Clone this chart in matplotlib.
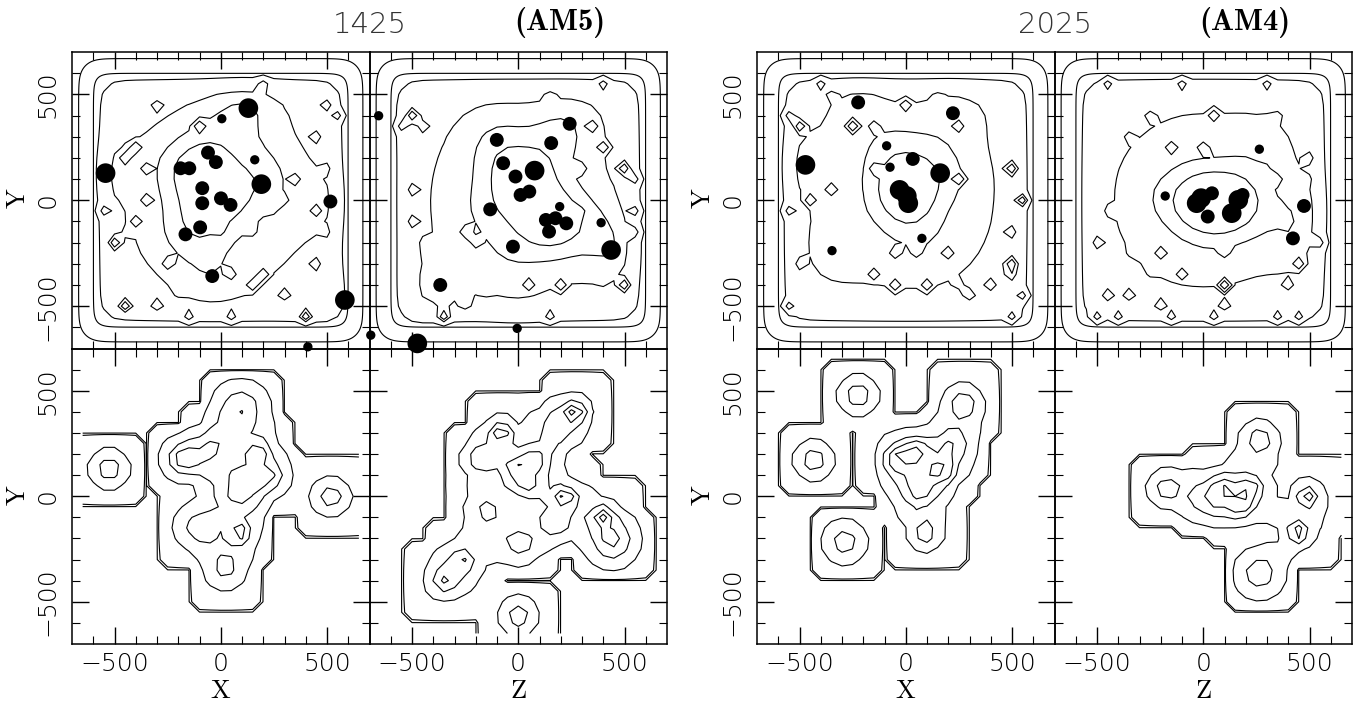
import numpy as np
import matplotlib
matplotlib.use("Agg")
import matplotlib.pyplot as plt
from matplotlib.font_manager import FontProperties
import os

ttf = os.path.join(matplotlib.get_data_path(), 'fonts', 'ttf')
cm_bold = FontProperties(fname=os.path.join(ttf, 'cmb10.ttf'), size=22)
cm_roman = FontProperties(fname=os.path.join(ttf, 'cmr10.ttf'), size=19)

# ---------------- data ----------------
# top panels: diamond peaks (x, y, nesting) and black dots (x, y, size class)
am5_xy_dia_x = [206, -305, 549, 502, -396, -95, -448, -356, 447, 349, 499, -546, -350, -401, -503, -448, 261, 304, 451, 496, 18, 145, 461, 52, 201, 145, 308, 404, -146, 36, -228, -448, -299, -207]
am5_xy_dia_y = [572, 446, 404, 446, 262, 348, 194, 167, 304, 101, 164, -49, 2, -98, -196, -140, -50, 17, -43, -140, -156, -143, -298, -345, -345, -400, -448, -558, -542, -542, -290, -495, -495, -440]
am5_xy_dia_n = [1, 1, 1, 1, 1, 1, 1, 1, 1, 1, 1, 1, 1, 1, 2, 1, 1, 1, 1, 1, 1, 1, 1, 1, 1, 1, 1, 2, 1, 1, 1, 2, 1, 1]
am5_xy_dot_x = [130, 5, -542, -60, -23, -189, -148, 160, 191, -87, -87, 1, 46, -97, -166, 516, -40, 584, 410, 706]
am5_xy_dot_y = [435, 385, 128, 225, 180, 151, 151, 191, 76, 57, -14, 9, -22, -128, -161, -6, -358, -471, -692, -637]
am5_xy_dot_s = [3, 1, 3, 2, 2, 2, 2, 1, 3, 2, 2, 2, 2, 2, 2, 2, 2, 3, 1, 1]

am5_zy_dia_x = [-499, -545, -439, 420, 155, 349, 399, 512, 553, 308, -488, 308, 247, 553, -499, -244, -193, -439, -469, 502, 52, 195, 420, -336, -244, -336, -132, 155, 543]
am5_zy_dia_y = [404, 364, 356, 561, 506, 348, 262, 159, 96, 143, 49, -46, -46, -46, -93, -140, -180, -203, -266, -400, -400, -400, -400, -519, -495, -542, -448, -542, -156]
am5_zy_dia_n = [2, 1, 1, 1, 1, 1, 1, 2, 1, 1, 1, 1, 1, 1, 1, 1, 1, 1, 1, 2, 1, 1, 1, 1, 1, 2, 1, 1, 1]
am5_zy_dot_x = [-657, -475, -5, 242, -101, 155, -71, 77, -13, 11, 52, -132, 195, 130, 175, 226, 145, 390, -25, 437, -367]
am5_zy_dot_y = [399, -676, -605, 361, 285, 270, 175, 140, 112, 25, 41, -43, -30, -93, -85, -109, -148, -106, -219, -235, -400]
am5_zy_dot_s = [1, 3, 1, 2, 2, 2, 2, 3, 2, 2, 2, 2, 1, 2, 2, 2, 2, 1, 2, 3, 2]

am4_xy_dia_x = [-388, -351, 156, -542, -501, -248, -152, 2, 238, -131, 238, -347, -450, -552, 495, 556, 505, 53, -60, 207, 505, 505, -162, -39, 248, 290, 402, -552, 556, 505, 105, -511]
am4_xy_dia_y = [550, 503, 503, 396, 348, 352, 348, 443, 333, 151, 112, 49, 2, -49, 159, -2, -140, -251, -251, -266, -306, -353, -353, -400, -400, -448, -400, -495, -440, -534, -400, -298]
am4_xy_dia_n = [1, 1, 1, 1, 2, 2, 1, 1, 1, 1, 1, 1, 1, 1, 2, 2, 1, 1, 1, 1, 2, 1, 1, 1, 1, 1, 1, 1, 1, 1, 1, 1]
am4_xy_dot_x = [-224, 222, -90, 33, -74, -472, 162, -29, 12, 5, 76, -347]
am4_xy_dot_y = [462, 411, 257, 195, 156, 167, 128, 49, -14, 20, -180, -238]
am4_xy_dot_s = [2, 2, 1, 2, 1, 3, 3, 3, 3, 3, 1, 1]

am4_zy_dia_x = [-443, -93, 309, -247, 51, 309, 360, -350, -144, 10, 299, 360, 504, 494, -453, 268, -494, -350, -196, 103, 556, 453, -247, -113, 103, 412, -453, -360, -185, -144, 62, 103, 360, 453, -494, -391]
am4_zy_dia_y = [550, 546, 553, 396, 396, 396, 396, 301, 254, 254, 128, 96, 96, 191, -46, -30, -200, -251, -251, -251, -219, -298, -353, -353, -400, -400, -440, -440, -487, -550, -550, -503, -542, -542, -542, -542]
am4_zy_dia_n = [1, 1, 1, 1, 1, 1, 1, 1, 1, 1, 1, 1, 1, 1, 1, 1, 1, 1, 1, 1, 1, 1, 1, 1, 2, 1, 1, 1, 1, 1, 1, 1, 1, 1, 1, 1]
am4_zy_dot_x = [264, -179, -10, -31, 41, 21, 134, 165, 185, 474, 422]
am4_zy_dot_y = [241, 20, 10, -14, 33, -77, -61, 2, 25, -27, -180]
am4_zy_dot_s = [1, 1, 3, 3, 2, 2, 3, 3, 2, 2, 2]

# bottom panels: smoothed sources (x, y, peak height, peak width)
am5_xy_src_x = [-525, 93, -173, 175, 89, 20, -20, 226, -101, 89, 21, 518]
am5_xy_src_y = [130, 416, 179, 219, 6, 120, 250, 89, -144, -173, -349, -2]
am5_xy_src_a = [0.9, 0.9, 1.3, 1.25, 0.85, 0.3, 0.7, 1.0, 0.8, 1.25, 0.7, 0.9]
am5_xy_src_s = [45, 80, 55, 40, 70, 90, 60, 50, 65, 35, 50, 45]

am5_zy_src_x = [267, -81, 175, -177, 89, -3, 48, 220, 396, -152, 175, 1, 441, -259, -346, 1]
am5_zy_src_y = [400, 305, 329, 176, 176, 132, 45, -2, -89, -65, -128, -223, -218, -302, -397, -567]
am5_zy_src_a = [1.3, 1.3, 0.7, 0.9, 0.75, 0.85, 0.75, 1.3, 1.3, 0.65, 0.85, 0.75, 1.0, 0.85, 0.9, 0.9]
am5_zy_src_s = [35, 35, 60, 45, 40, 45, 40, 35, 35, 55, 45, 55, 70, 45, 45, 45]

am4_xy_src_x = [-224, 269, -433, -289, -45, 43, 228, 177, 60, 90, 50]
am4_xy_src_y = [479, 440, 171, -215, 179, 219, 250, 124, 14, -173, 120]
am4_xy_src_a = [0.95, 1.0, 0.9, 0.8, 0.95, 0.95, 0.75, 0.85, 0.75, 0.95, 0.2]
am4_xy_src_s = [45, 45, 45, 55, 40, 40, 55, 45, 60, 40, 90]

am4_zy_src_x = [264, -169, 25, 222, 181, 93, 490, 443, 264]
am4_zy_src_y = [266, 37, -15, 45, -42, 45, 1, -173, -365]
am4_zy_src_a = [0.95, 0.9, 0.75, 0.95, 0.95, 0.6, 1.3, 1.3, 0.8]
am4_zy_src_s = [45, 45, 60, 40, 40, 40, 35, 35, 70]

dot_area = {1: 45, 2: 100, 3: 200}
LW = 0.8


def edge(t, c, w):
    return 1.0 / (1.0 + np.exp((np.abs(t) - c) / w))


def style(ax, xlab, ylab):
    ax.set_facecolor('none')
    ax.set_xlim(-700, 700)
    ax.set_ylim(-700, 700)
    ax.set_xticks([-500, 0, 500])
    ax.set_yticks([-500, 0, 500])
    ax.set_xticks(np.arange(-600, 601, 100), minor=True)
    ax.set_yticks(np.arange(-600, 601, 100), minor=True)
    ax.tick_params(which='both', direction='in', top=True, right=True,
                   labelsize=18, colors='k')
    ax.tick_params(which='major', length=12, width=1)
    ax.tick_params(which='minor', length=6, width=0.8)
    ax.tick_params(axis='x', pad=6, labelbottom=xlab)
    ax.tick_params(axis='y', pad=9, labelleft=ylab)
    for t in ax.get_xticklabels() + ax.get_yticklabels():
        t.set_fontweight('light')
    if ylab:
        for t in ax.get_yticklabels():
            t.set_rotation(90)
            t.set_va('center')
    for s in ax.spines.values():
        s.set_linewidth(1.1)


def top_panel(ax, dx, dy, dn, px, py, ps):
    # smooth outer rounded frames
    xf = np.linspace(-720, 720, 289)
    XF, YF = np.meshgrid(xf, xf)
    Q = edge(XF, 630, 28) * edge(YF, 630, 28)
    ax.contour(XF, YF, Q, levels=[0.2, 0.75], colors='k', linewidths=LW)
    # coarse density field
    g = np.arange(-700, 701, 50)
    X, Y = np.meshgrid(g, g)
    C = 0.55 * np.exp(-(X**2 + Y**2) / (2 * 380**2))
    for x, y, s in zip(px, py, ps):
        C = C + (0.1 + 0.12 * s) * np.exp(-((X - x)**2 + (Y - y)**2) / (2 * 100**2))
    F = edge(X, 560, 30) * edge(Y, 560, 30) * (1 + C)
    levels = [0.5, 1.3, 1.75, 2.3, 3.0, 3.8, 4.7]
    base = F.copy()
    for x, y, n in zip(dx, dy, dn):
        j = int(round((x + 700) / 50))
        i = int(round((y + 700) / 50))
        v0 = base[i, j]
        above = [L for L in levels if L > v0]
        if not above:
            continue
        k = min(n, len(above)) - 1
        L = above[k]
        v = (L - 0.6 * v0) / 0.4
        if k + 1 < len(above):
            v = min(v, above[k + 1] - 0.05)
        F[i, j] = max(F[i, j], v)
    ax.contour(X, Y, F, levels=levels[:4], colors='k', linewidths=LW)
    ax.scatter(px, py, s=[dot_area[s] for s in ps], c='k', linewidths=0,
               clip_on=False, zorder=5)


def bottom_panel(ax, sx, sy, sa, ss):
    g = np.arange(-650, 651, 50)
    X, Y = np.meshgrid(g, g)
    F = np.zeros(X.shape)
    inside = np.zeros(X.shape, dtype=bool)
    for x, y, a, s in zip(sx, sy, sa, ss):
        ddx, ddy = X - x, Y - y
        d2 = ddx**2 + ddy**2
        box = (np.abs(ddx) <= 160) & (np.abs(ddy) <= 160)
        k = 0.32 * np.exp(-d2 / (2 * 110**2)) + a * np.exp(-d2 / (2 * s**2))
        F += np.where(box, k, 0)
        inside |= box
    F += np.where(inside, 0.1, 0)
    ax.contour(X, Y, F, levels=[0.004, 0.045, 0.4, 0.9, 1.35, 1.75],
               colors='k', linewidths=LW)


fig = plt.figure(figsize=(13.62, 7.06), dpi=100)
W, H = 1362.0, 706.0


def add(x0, y0, x1, y1):
    return fig.add_axes([x0 / W, 1 - y1 / H, (x1 - x0) / W, (y1 - y0) / H])


groups = [
    (72, (am5_xy_dia_x, am5_xy_dia_y, am5_xy_dia_n, am5_xy_dot_x, am5_xy_dot_y, am5_xy_dot_s),
     (am5_zy_dia_x, am5_zy_dia_y, am5_zy_dia_n, am5_zy_dot_x, am5_zy_dot_y, am5_zy_dot_s),
     (am5_xy_src_x, am5_xy_src_y, am5_xy_src_a, am5_xy_src_s),
     (am5_zy_src_x, am5_zy_src_y, am5_zy_src_a, am5_zy_src_s),
     '1425', '(AM5)'),
    (757, (am4_xy_dia_x, am4_xy_dia_y, am4_xy_dia_n, am4_xy_dot_x, am4_xy_dot_y, am4_xy_dot_s),
     (am4_zy_dia_x, am4_zy_dia_y, am4_zy_dia_n, am4_zy_dot_x, am4_zy_dot_y, am4_zy_dot_s),
     (am4_xy_src_x, am4_xy_src_y, am4_xy_src_a, am4_xy_src_s),
     (am4_zy_src_x, am4_zy_src_y, am4_zy_src_a, am4_zy_src_s),
     '2025', '(AM4)'),
]

pw = 297.5
for x0, txy, tzy, bxy, bzy, num, tag in groups:
    xm, x1 = x0 + pw, x0 + 2 * pw
    a1 = add(x0, 52, xm, 348.5)
    a2 = add(xm, 52, x1, 348.5)
    a3 = add(x0, 348.5, xm, 644)
    a4 = add(xm, 348.5, x1, 644)
    top_panel(a1, *txy)
    top_panel(a2, *tzy)
    bottom_panel(a3, *bxy)
    bottom_panel(a4, *bzy)
    style(a1, False, True)
    style(a2, False, False)
    style(a3, True, True)
    style(a4, True, False)
    for a in (a1, a2):
        a.set_zorder(3)
    fig.text(xm / W, 1 - 25 / H, num, ha='center', va='center', fontsize=21,
             color='#333333', fontweight='light')
    fig.text((x0 + 1.64 * pw) / W, 1 - 22 / H, tag, ha='center', va='center',
             fontproperties=cm_bold)
    fig.text((x0 + 0.5 * pw) / W, 1 - 691 / H, 'X', ha='center',
             va='center', fontproperties=cm_roman)
    fig.text((xm + 0.5 * pw) / W, 1 - 691 / H, 'Z', ha='center',
             va='center', fontproperties=cm_roman)
    fig.text((x0 - 54) / W, 1 - 198 / H, 'Y', ha='center',
             va='center', fontproperties=cm_roman, rotation=90)
    fig.text((x0 - 54) / W, 1 - 495 / H, 'Y', ha='center',
             va='center', fontproperties=cm_roman, rotation=90)

fig.savefig('out.png', dpi=100)
